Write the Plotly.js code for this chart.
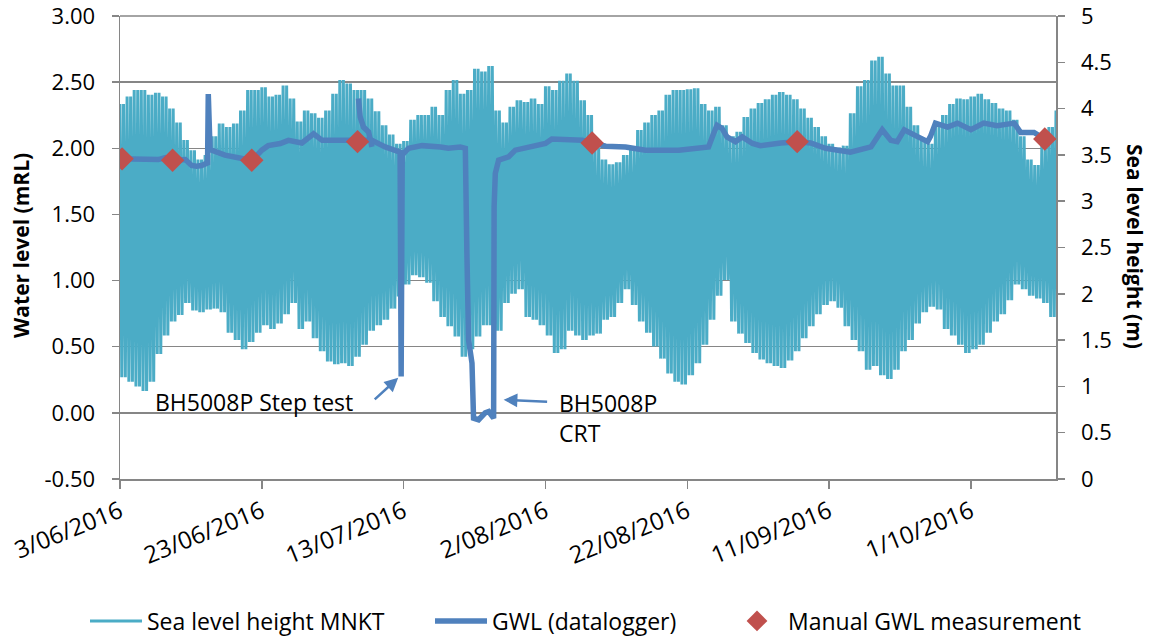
<!DOCTYPE html>
<html>
<head>
<meta charset="utf-8">
<script src="https://cdn.plot.ly/plotly-3.0.1.min.js"></script>
<style>
  html, body { margin: 0; padding: 0; background: #ffffff; }
  #chart { width: 1155px; height: 638px; }
</style>
</head>
<body>
<div id="chart"></div>
<script>
// Records start at midnight on 3 June 2016; day offsets count from here.
const START = Date.UTC(2016, 5, 3);
const DAY_MS = 86400000;

// Daily tidal high and low at MNKT (m), one pair per day from 3/06/2016
const seaHigh = [
  4.05, 4.13, 4.20, 4.20, 4.15, 4.17, 4.13, 4.00, 3.85, 3.66,
  3.55, 3.45, 3.50, 3.70, 3.84, 3.80, 3.84, 3.98, 4.20, 4.20,
  4.23, 4.13, 4.15, 4.25, 4.11, 3.86, 3.98, 3.95, 3.90, 3.98,
  4.16, 4.31, 4.27, 4.20, 4.20, 4.11, 3.97, 3.82, 3.72, 3.62,
  3.65, 3.88, 3.93, 3.93, 4.02, 3.93, 4.20, 4.31, 4.16, 4.20,
  4.43, 4.40, 4.46, 3.98, 3.85, 4.02, 4.09, 4.07, 4.11, 4.05,
  4.24, 4.20, 4.30, 4.38, 4.30, 4.09, 3.93, 3.58, 3.45, 3.40,
  3.42, 3.50, 3.56, 3.77, 3.85, 3.93, 3.98, 4.15, 4.20, 4.20,
  4.21, 4.22, 4.05, 3.98, 4.02, 3.82, 3.70, 3.75, 3.91, 4.00,
  4.06, 4.10, 4.15, 4.18, 4.15, 4.10, 4.00, 3.90, 3.80, 3.70,
  3.62, 3.58, 3.60, 3.95, 4.24, 4.31, 4.52, 4.56, 4.38, 4.25,
  4.25, 4.02, 3.82, 3.65, 3.62, 3.80, 3.93, 4.05, 4.11, 4.10,
  4.13, 4.16, 4.10, 4.06, 4.00, 3.98, 3.88, 3.70, 3.45, 3.39,
  3.60, 3.80, 3.98
];
const seaLow = [
  1.10, 1.05, 1.00, 0.95, 1.05, 1.35, 1.55, 1.70, 1.77, 1.90,
  1.82, 1.80, 1.83, 1.84, 1.80, 1.58, 1.50, 1.40, 1.48, 1.58,
  1.66, 1.62, 1.68, 1.78, 1.90, 1.62, 1.70, 1.52, 1.38, 1.27,
  1.24, 1.25, 1.22, 1.32, 1.45, 1.60, 1.66, 1.72, 1.84, 1.97,
  2.10, 2.20, 2.18, 2.12, 1.92, 1.75, 1.65, 1.54, 1.32, 1.40,
  1.54, 1.66, 1.66, 1.60, 1.90, 2.00, 2.05, 1.75, 1.72, 1.66,
  1.55, 1.36, 1.40, 1.60, 1.55, 1.50, 1.55, 1.57, 1.72, 1.75,
  1.90, 2.05, 1.88, 1.70, 1.58, 1.43, 1.30, 1.14, 1.05, 1.02,
  1.12, 1.25, 1.45, 1.72, 1.98, 2.15, 1.70, 1.57, 1.47, 1.36,
  1.29, 1.25, 1.22, 1.20, 1.28, 1.38, 1.52, 1.65, 1.78, 1.88,
  1.92, 1.85, 1.65, 1.50, 1.38, 1.18, 1.22, 1.12, 1.08, 1.18,
  1.38, 1.50, 1.68, 1.80, 1.86, 1.83, 1.62, 1.55, 1.45, 1.36,
  1.40, 1.45, 1.58, 1.70, 1.78, 1.93, 2.10, 2.05, 1.98, 1.95,
  1.90, 1.75, 1.72
];

// GWL datalogger: elapsed days and water level (mRL)
const gwlDays = [
  0.0, 2.8, 5.4, 6.4, 7.4, 9.2, 10.1, 10.8, 11.5, 12.35,
  12.45, 12.7, 13.4, 14.8, 17.2, 18.6, 20.0, 20.9, 22.6, 23.75,
  25.65, 27.3, 28.5, 31.3, 33.5, 35.5, 37.4, 39.5, 39.65, 39.8,
  40.7, 42.6, 45.2, 46.3, 48.0, 48.7, 48.93, 49.16, 49.64, 49.86,
  50.57, 51.05, 51.5, 52.0, 52.69, 52.76, 52.93, 53.4, 54.8, 55.75,
  57.6, 60.0, 60.9, 63.3, 65.2, 67.0, 68.5, 71.3, 74.1, 78.8,
  81.2, 83.0, 83.7, 84.2, 84.9, 85.6, 86.8, 87.75, 89.2, 90.3,
  93.2, 95.5, 97.4, 99.5, 103.0, 105.9, 107.5, 108.7, 109.6, 110.6,
  112.4, 113.9, 114.3, 115.0, 116.7, 118.1, 120.0, 121.8, 123.7, 126.1,
  127.0, 128.9, 130.4
];
const gwlLevel = [
  1.92, 1.92, 1.915, 1.93, 1.91, 1.915, 1.87, 1.865, 1.87, 1.89,
  2.41, 1.99, 1.973, 1.948, 1.923, 1.905, 1.986, 2.02, 2.036, 2.06,
  2.04, 2.11, 2.06, 2.06, 2.05, 2.06, 2.01, 1.97, 0.275, 1.95,
  2.00, 2.02, 2.01, 2.00, 2.01, 2.00, 1.18, 0.55, 0.376, -0.04,
  -0.052, -0.027, 0.00, 0.01, -0.04, 1.56, 1.81, 1.91, 1.935, 1.986,
  2.01, 2.036, 2.07, 2.06, 2.06, 2.036, 2.016, 2.01, 1.986, 1.986,
  2.00, 2.01, 2.11, 2.174, 2.15, 2.086, 2.05, 2.086, 2.036, 2.02,
  2.04, 2.05, 2.04, 2.00, 1.97, 2.01, 2.14, 2.06, 2.05, 2.14,
  2.09, 2.05, 2.09, 2.19, 2.16, 2.19, 2.14, 2.19, 2.17, 2.19,
  2.12, 2.12, 2.07
];
// Short overlapping logger segment in early July
const gwlBranchDays = [33.63, 33.87, 34.34, 35.05, 35.53];
const gwlBranchLevel = [2.376, 2.237, 2.16, 2.124, 2.01];

// Manual dip readings (mRL)
const manualDates = [
  '2016-06-03 07:00', '2016-06-10 10:00', '2016-06-21 14:00', '2016-07-06 12:00',
  '2016-08-08 14:00', '2016-09-06 12:00', '2016-10-11 10:00'
];
const manualLevel = [1.92, 1.91, 1.91, 2.05, 2.04, 2.05, 2.07];

// Tick positions and labels
const xTickDates = ['2016-06-03', '2016-06-23', '2016-07-13', '2016-08-02',
                    '2016-08-22', '2016-09-11', '2016-10-01'];
const xTickLabels = ['3/06/2016', '23/06/2016', '13/07/2016', '2/08/2016',
                     '22/08/2016', '11/09/2016', '1/10/2016'];
const leftTicks = [-0.5, 0, 0.5, 1, 1.5, 2, 2.5, 3];
const leftTickLabels = ['-0.50', '0.00', '0.50', '1.00', '1.50', '2.00', '2.50', '3.00'];
const rightTicks = [0, 0.5, 1, 1.5, 2, 2.5, 3, 3.5, 4, 4.5, 5];
const rightTickLabels = ['0', '0.5', '1', '1.5', '2', '2.5', '3', '3.5', '4', '4.5', '5'];

function toDate(dayOffset) {
  return new Date(START + dayOffset * DAY_MS).toISOString().slice(0, 19).replace('T', ' ');
}

// Expand each day's high and low into the two-tide daily cycle
const seaX = [], seaY = [];
for (let d = 0; d < seaHigh.length; d++) {
  seaX.push(toDate(d));        seaY.push(seaHigh[d]);
  seaX.push(toDate(d + 0.25)); seaY.push(seaLow[d]);
  seaX.push(toDate(d + 0.5));  seaY.push(seaHigh[d]);
  seaX.push(toDate(d + 0.75)); seaY.push(seaLow[d]);
}

// Main logger record, a break, then the overlapping segment
const gwlX = gwlDays.map(toDate).concat([null], gwlBranchDays.map(toDate));
const gwlY = gwlLevel.concat([null], gwlBranchLevel);

const FONT = '"Open Sans", "DejaVu Sans", sans-serif';
const GREY = '#868686';
const SEA = '#4BACC6';
const GWL = '#4F81BD';
const MANUAL = '#C0504D';

const traces = [
  {
    type: 'scatter', mode: 'lines', name: 'Sea level height MNKT',
    x: seaX, y: seaY, xaxis: 'x', yaxis: 'y',
    line: { color: SEA, width: 3, simplify: false },
    legend: 'legend', hoverinfo: 'skip'
  },
  {
    type: 'scatter', mode: 'lines', name: 'GWL (datalogger)',
    x: gwlX, y: gwlY, xaxis: 'x', yaxis: 'y2',
    line: { color: GWL, width: 5.5 }, connectgaps: false,
    legend: 'legend2'
  },
  {
    type: 'scatter', mode: 'markers', name: 'Manual GWL measurement',
    x: manualDates, y: manualLevel, xaxis: 'x', yaxis: 'y2',
    marker: { symbol: 'diamond', size: 18, color: MANUAL, line: { width: 0 } },
    legend: 'legend3'
  }
];

function legendAt(px) {
  return {
    xref: 'container', yref: 'container',
    x: px / 1155, y: 1 - 621 / 638, xanchor: 'left', yanchor: 'middle',
    orientation: 'h', bgcolor: 'rgba(0,0,0,0)', itemwidth: 52,
    font: { family: FONT, size: 23, color: '#000' }
  };
}

const layout = {
  width: 1155, height: 638,
  margin: { l: 120, r: 99, t: 16, b: 159 },
  paper_bgcolor: '#ffffff', plot_bgcolor: '#ffffff',
  font: { family: FONT, size: 22, color: '#000' },
  showlegend: true,
  legend: legendAt(85),
  legend2: legendAt(430),
  legend3: legendAt(726),
  xaxis: {
    type: 'date', range: ['2016-06-03', '2016-10-13'], anchor: 'y',
    tickmode: 'array', tickvals: xTickDates, ticktext: xTickLabels,
    tickangle: -22, ticks: 'outside', ticklen: 8, tickwidth: 1.5, tickcolor: GREY,
    showline: true, linecolor: GREY, linewidth: 1.5,
    showgrid: false, zeroline: false,
    tickfont: { family: FONT, size: 24, color: '#000' }
  },
  // Sea level scale on the right
  yaxis: {
    side: 'right', range: [0, 5], anchor: 'x',
    tickmode: 'array', tickvals: rightTicks, ticktext: rightTickLabels,
    ticks: 'outside', ticklen: 7, tickwidth: 1.5, tickcolor: GREY,
    ticklabelstandoff: 12, ticklabeloverflow: 'allow',
    showline: true, linecolor: GREY, linewidth: 1.5,
    showgrid: false, zeroline: false,
    tickfont: { family: FONT, size: 22, color: '#000' }
  },
  // Water level scale on the left, with the horizontal grid
  yaxis2: {
    overlaying: 'y', side: 'left', range: [-0.5, 3], anchor: 'x',
    tickmode: 'array', tickvals: leftTicks, ticktext: leftTickLabels,
    ticks: 'outside', ticklen: 7, tickwidth: 1.5, tickcolor: GREY,
    ticklabelstandoff: 12, ticklabeloverflow: 'allow',
    showline: true, linecolor: GREY, linewidth: 1.5,
    showgrid: true, gridcolor: GREY, gridwidth: 1.5,
    zeroline: false,
    tickfont: { family: FONT, size: 22, color: '#000' }
  },
  shapes: [
    // top grid line along the upper edge of the plot
    { type: 'line', xref: 'paper', yref: 'paper', x0: 0, x1: 1, y0: 1, y1: 1,
      line: { color: GREY, width: 1.5 }, layer: 'below' }
  ],
  annotations: [
    { xref: 'paper', yref: 'paper', x: -0.106, y: 0.505, xanchor: 'center', yanchor: 'middle',
      text: '<b>Water level (mRL)</b>', textangle: -90, showarrow: false,
      font: { family: FONT, size: 21, color: '#000' } },
    { xref: 'paper', yref: 'paper', x: 1.0844, y: 0.501, xanchor: 'center', yanchor: 'middle',
      text: '<b>Sea level height (m)</b>', textangle: 90, showarrow: false,
      font: { family: FONT, size: 21, color: '#000' } },
    { xref: 'paper', yref: 'paper', x: 0.0353, y: 0.166, xanchor: 'left', yanchor: 'middle',
      text: 'BH5008P Step test', showarrow: false,
      font: { family: FONT, size: 23, color: '#000' } },
    { xref: 'x', yref: 'y2', x: toDate(39.24), y: 0.265, ax: -25, ay: 23,
      text: '', showarrow: true, arrowhead: 2, arrowsize: 1.1, arrowwidth: 2.5, arrowcolor: GWL },
    { xref: 'paper', yref: 'paper', x: 0.4669, y: 0.132, xanchor: 'left', yanchor: 'middle',
      text: 'BH5008P<br>CRT', align: 'left', showarrow: false,
      font: { family: FONT, size: 23, color: '#000' } },
    { xref: 'x', yref: 'y2', x: toDate(54.1), y: 0.099, ax: 45, ay: 2,
      text: '', showarrow: true, arrowhead: 2, arrowsize: 1.1, arrowwidth: 2.5, arrowcolor: GWL }
  ]
};

Plotly.newPlot('chart', traces, layout, { displayModeBar: false, staticPlot: true });
</script>
</body>
</html>
